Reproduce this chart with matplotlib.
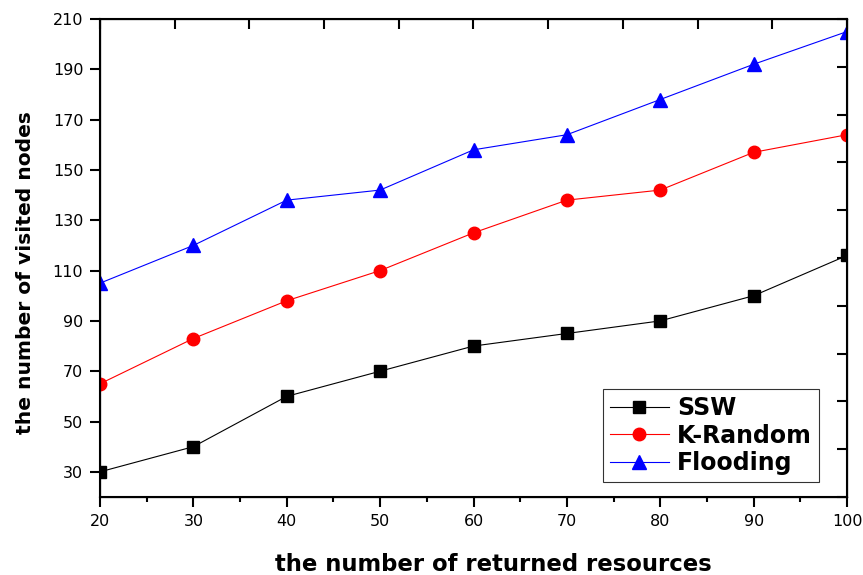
import numpy as np
import matplotlib
matplotlib.use('Agg')
from matplotlib import pyplot as plt

plt.rcParams['font.family'] = ['DejaVu Sans']

x = [20, 30, 40, 50, 60, 70, 80, 90, 100]
ssw = [30, 40, 60, 70, 80, 85, 90, 100, 116]
krandom = [65, 83, 98, 110, 125, 138, 142, 157, 164]
flooding = [105, 120, 138, 142, 158, 164, 178, 192, 205]

fig = plt.figure(figsize=(8.63, 5.75), dpi=100)
ax = fig.add_axes([100/863, 1-497/575, 747/863, 478/575])

ax.plot(x, ssw, color='black', lw=0.8, marker='s', ms=8, label='SSW')
ax.plot(x, krandom, color='red', lw=0.8, marker='o', ms=9, label='K-Random')
ax.plot(x, flooding, color='blue', lw=0.8, marker='^', ms=10.5, label='Flooding')

ax.set_xlim(20, 100)
ax.set_ylim(20, 210)
ax.set_xticks(np.arange(20, 101, 10))
ax.set_xticks(np.arange(25, 100, 10), minor=True)
ax.set_yticks(np.arange(30, 211, 20))
ax.tick_params(axis='both', which='major', direction='out', length=7, width=1.5,
               labelsize=11.5, pad=5)
ax.tick_params(axis='x', which='minor', direction='out', length=3.5, width=1.5)
for s in ax.spines.values():
    s.set_linewidth(1.5)

# top / right axes: ticks pointing in, no labels
axt = ax.twiny()
axt.set_xlim(20, 100)
axt.set_xticks(np.linspace(20, 100, 11))
axt.tick_params(axis='x', direction='in', length=7, width=1.5, labeltop=False)
axr = ax.twinx()
axr.set_ylim(20, 210)
axr.set_yticks(np.linspace(20, 210, 11))
axr.tick_params(axis='y', direction='in', length=7, width=1.5, labelright=False)

ax.set_xlabel('the number of returned resources', fontsize=16.4, fontweight='bold')
ax.xaxis.set_label_coords(0.527, -0.117)
ax.set_ylabel('the number of visited nodes', fontsize=14.6, fontweight='bold')
ax.yaxis.set_label_coords(-0.087, 0.469)

leg = ax.legend(loc='lower right', bbox_to_anchor=(0.9625, 0.031),
                prop={'weight': 'bold', 'size': 17}, frameon=True, fancybox=False,
                edgecolor='black', handlelength=2.5, handletextpad=0.35,
                labelspacing=0.15, borderpad=0.3, borderaxespad=0)
leg.get_frame().set_linewidth(0.8)

fig.savefig('out.png', dpi=100)
